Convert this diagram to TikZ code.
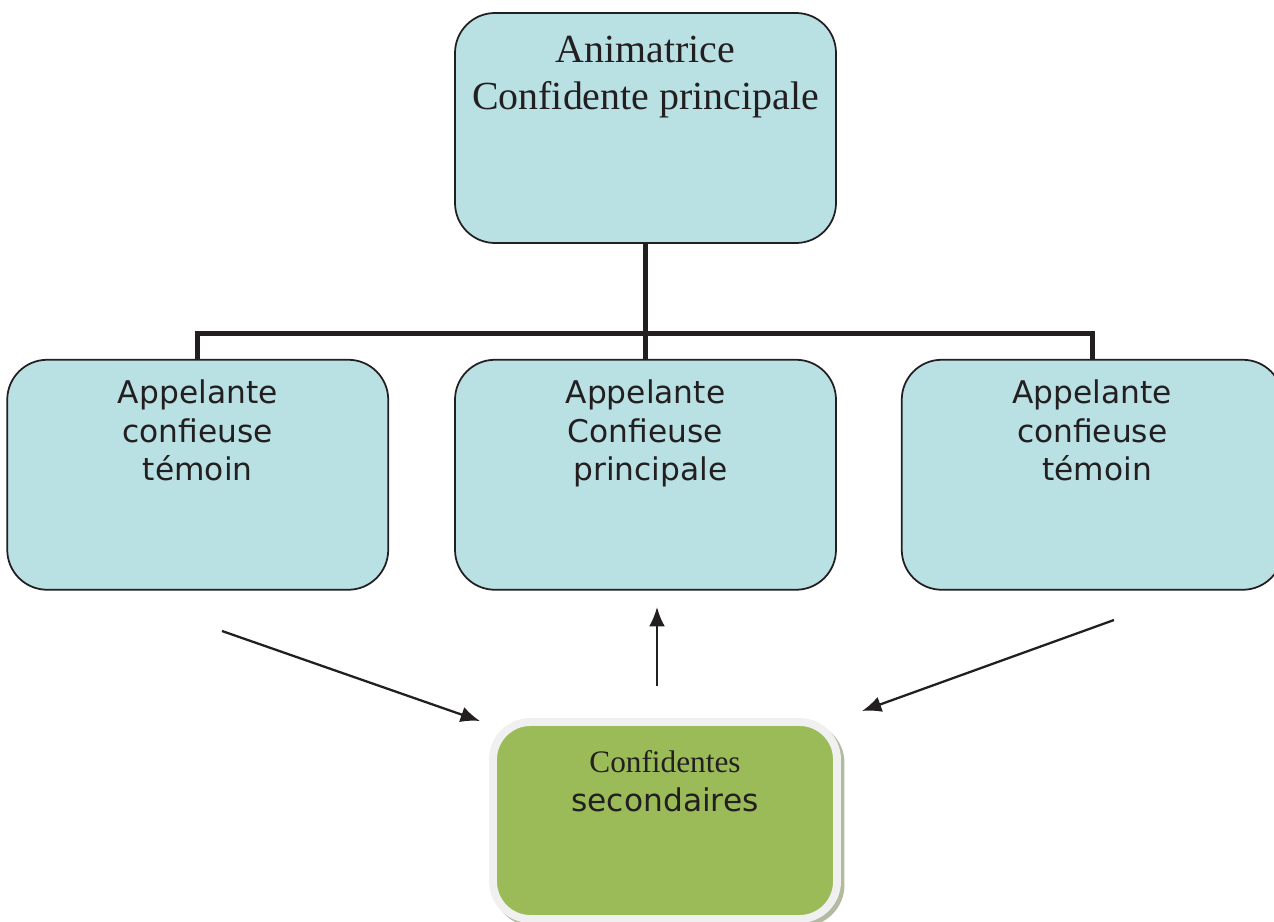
\documentclass[tikz,border=0pt]{standalone}
\usepackage{fontspec}
\setmainfont{Liberation Serif}
\setsansfont{DejaVu Sans}
\usetikzlibrary{shapes, arrows.meta, positioning}

\definecolor{boxblue}{RGB}{185,224,227}
\definecolor{boxgreen}{RGB}{155,187,89}
\definecolor{rimgray}{RGB}{240,240,240}
\definecolor{shadegray}{RGB}{178,186,160}
\definecolor{inkgray}{RGB}{35,31,32}

\begin{document}
\begin{tikzpicture}[
  bluebox/.style={draw=inkgray, line width=1pt, fill=boxblue, rounded corners=0.8cm,
    minimum width=7.62cm, minimum height=4.6cm, inner sep=0},
  greenbox/.style={draw=rimgray, line width=4.5pt, fill=boxgreen, rounded corners=0.75cm,
    minimum width=6.88cm, minimum height=3.94cm, inner sep=0},
  shadebox/.style={greenbox, draw=shadegray, fill=shadegray},
  toptext/.style={text=inkgray, align=center, inner sep=0, anchor=base,
    font=\rmfamily\fontsize{22.7}{26.6}\selectfont},
  subtext/.style={text=inkgray, align=center, inner sep=0, anchor=base,
    font=\sffamily\fontsize{17.8}{22.1}\selectfont},
  tree/.style={draw=inkgray, line width=2.8pt},
  link/.style={draw=inkgray, line width=1.3pt, -{Latex[length=11pt,width=9pt]}}
]
  \useasboundingbox (0,0) rectangle (25.48,-18.44);

  % animatrice
  \node (anim) [bluebox] at (12.91,-2.56) {};
  \node (animtxt) [toptext] at ([yshift=-1.94cm]anim.north) {Animatrice\\Confidente principale};

  %%%%%%%%%%%%%%%%%%
  \node (princ) [bluebox, below=2.3cm of anim] {};
  \node (princtxt) [subtext] at ([yshift=-2.44cm]princ.north) {Appelante\\Confieuse\\\ principale};

  \node (temleft) [bluebox, left=1.3cm of princ] {};
  \node (temlefttxt) [subtext] at ([yshift=-2.44cm]temleft.north) {Appelante\\confieuse\\témoin};

  \node (temright) [bluebox, right=1.28cm of princ] {};
  \node (temrighttxt) [subtext] at ([yshift=-2.44cm]temright.north) {Appelante\\confieuse\\\ témoin};

  %%%%%%%%%%%%%%%%%
  \node (secshade) [shadebox] at (13.37,-16.48) {};
  \node (sec) [greenbox] at (13.30,-16.41) {};
  \node (sectxt) [subtext] at ([yshift=-1.86cm]sec.north) {\rmfamily Confidentes\\secondaires};

  %%%%%%%%%%%%%%%%%
  \coordinate (lfrom) at (4.44,-12.62);
  \coordinate (lto) at (9.60,-14.42);
  \coordinate (mfrom) at (13.14,-13.72);
  \coordinate (mto) at (13.14,-12.14);
  \coordinate (rfrom) at (22.28,-12.40);
  \coordinate (rto) at (17.24,-14.22);

  %%%%%%%%%%%%%%%%%%%%
  \draw [tree] (anim.south) to (princ.north);
  \draw [tree] (temleft.north) -- ++(0,0.5) -| (temright.north);

  \draw [link] (lfrom) to (lto);
  \draw [link] (mfrom) to (mto);
  \draw [link] (rfrom) to (rto);

\end{tikzpicture}
\end{document}
